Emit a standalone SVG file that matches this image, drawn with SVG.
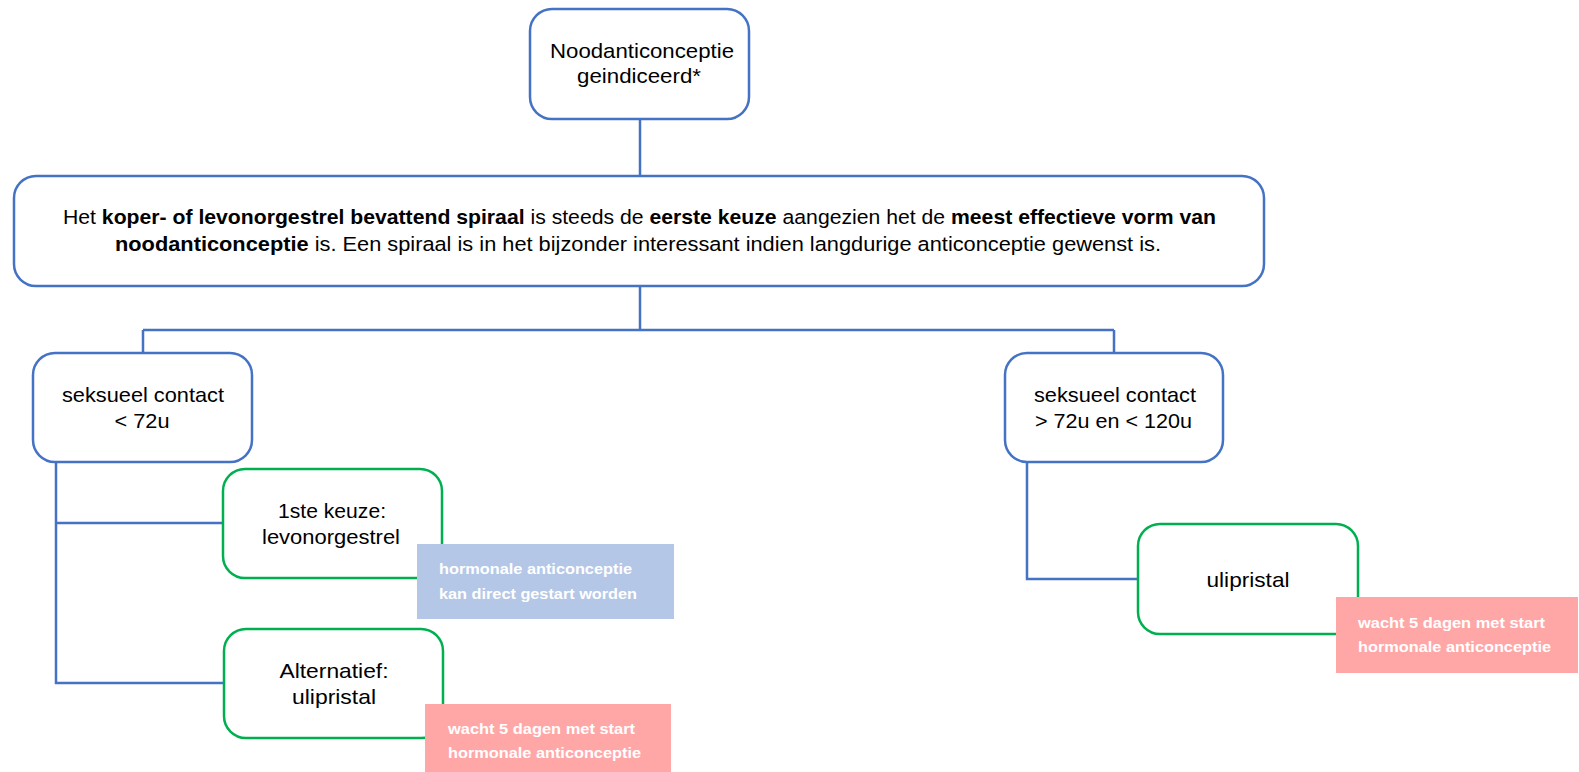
<svg xmlns="http://www.w3.org/2000/svg" width="1579" height="772" viewBox="0 0 1579 772">
<style>
.bn{fill:#fff;stroke:#4472c4;stroke-width:2.5}
.gn{fill:#fff;stroke:#00b050;stroke-width:2.5}
.t{font-family:"Liberation Sans",Arial,sans-serif;font-size:21px;fill:#000;text-anchor:middle}
.m{font-size:20.5px}
.b{font-weight:bold}
.nt{font-family:"Liberation Sans",Arial,sans-serif;font-size:15.5px;font-weight:bold;fill:#fff}
.c{fill:none;stroke:#4472c4;stroke-width:2.5}
</style>
<rect width="1579" height="772" fill="#fff"/>
<g id="connectors">
<path class="c" d="M640 119V176"/>
<path class="c" d="M640 286V330M143 330H1114M143 330V353M1114 330V353"/>
<path class="c" d="M56 462V683H224M56 523H223"/>
<path class="c" d="M1027 462V579H1138"/>
</g>
<g id="n-top">
<rect class="bn" x="530" y="9" width="219" height="110" rx="22"/>
<text class="t" x="642" y="58" textLength="184" lengthAdjust="spacingAndGlyphs">Noodanticonceptie</text>
<text class="t" x="639" y="83" textLength="124" lengthAdjust="spacingAndGlyphs">geindiceerd*</text>
</g>
<g id="n-main">
<rect class="bn" x="14" y="176" width="1250" height="110" rx="22"/>
<text class="t m" x="639.5" y="224" textLength="1153" lengthAdjust="spacingAndGlyphs">Het <tspan class="b">koper- of levonorgestrel bevattend spiraal</tspan> is steeds de <tspan class="b">eerste keuze</tspan> aangezien het de <tspan class="b">meest effectieve vorm van</tspan></text>
<text class="t m" x="638" y="251" textLength="1046" lengthAdjust="spacingAndGlyphs"><tspan class="b">noodanticonceptie</tspan>  is. Een spiraal is in het bijzonder interessant indien langdurige anticonceptie gewenst is.</text>
</g>
<g id="n-lt72">
<rect class="bn" x="33" y="353" width="219" height="109" rx="22"/>
<text class="t" x="143" y="402" textLength="162" lengthAdjust="spacingAndGlyphs">seksueel contact</text>
<text class="t" x="142" y="428" textLength="55" lengthAdjust="spacingAndGlyphs">&lt; 72u</text>
</g>
<g id="n-gt72">
<rect class="bn" x="1005" y="353" width="218" height="109" rx="22"/>
<text class="t" x="1115" y="402" textLength="162" lengthAdjust="spacingAndGlyphs">seksueel contact</text>
<text class="t" x="1113.5" y="428" textLength="157" lengthAdjust="spacingAndGlyphs">&gt; 72u en &lt; 120u</text>
</g>
<g id="n-levo">
<rect class="gn" x="223" y="469" width="219" height="109" rx="22"/>
<text class="t" x="332" y="518" textLength="108" lengthAdjust="spacingAndGlyphs">1ste keuze:</text>
<text class="t" x="331" y="544" textLength="138" lengthAdjust="spacingAndGlyphs">levonorgestrel</text>
</g>
<g id="note-levo">
<rect x="417" y="544" width="257" height="75" fill="#b4c7e7"/>
<text class="nt" x="439" y="574" textLength="193" lengthAdjust="spacingAndGlyphs">hormonale anticonceptie</text>
<text class="nt" x="439" y="599" textLength="198" lengthAdjust="spacingAndGlyphs">kan direct gestart worden</text>
</g>
<g id="n-alt">
<rect class="gn" x="224" y="629" width="219" height="109" rx="22"/>
<text class="t" x="334" y="678" textLength="109" lengthAdjust="spacingAndGlyphs">Alternatief:</text>
<text class="t" x="334" y="704" textLength="84" lengthAdjust="spacingAndGlyphs">ulipristal</text>
</g>
<g id="note-alt">
<rect x="425" y="704" width="246" height="68" fill="#ffa7a7"/>
<text class="nt" x="448" y="734" textLength="187" lengthAdjust="spacingAndGlyphs">wacht 5 dagen met start</text>
<text class="nt" x="448" y="758" textLength="193" lengthAdjust="spacingAndGlyphs">hormonale anticonceptie</text>
</g>
<g id="n-uli">
<rect class="gn" x="1138" y="524" width="220" height="110" rx="22"/>
<text class="t" x="1248" y="587" textLength="83" lengthAdjust="spacingAndGlyphs">ulipristal</text>
</g>
<g id="note-uli">
<rect x="1336" y="597" width="242" height="76" fill="#ffa7a7"/>
<text class="nt" x="1358" y="628" textLength="187" lengthAdjust="spacingAndGlyphs">wacht 5 dagen met start</text>
<text class="nt" x="1358" y="652" textLength="193" lengthAdjust="spacingAndGlyphs">hormonale anticonceptie</text>
</g>
</svg>
